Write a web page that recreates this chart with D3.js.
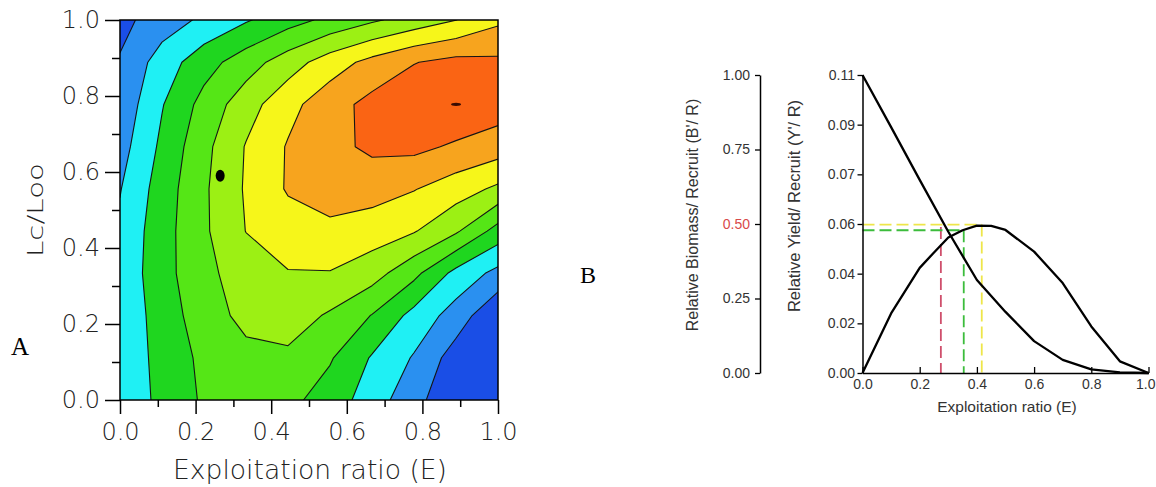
<!DOCTYPE html>
<html><head><meta charset="utf-8">
<script src="https://cdn.jsdelivr.net/npm/d3@7"></script>
<style>body{margin:0;background:#fff}svg{display:block}</style>
</head><body>
<svg id="c" width="1156" height="487"></svg>
<script>
// ---------- Panel A: Y/R isopleth grid (E = i/9 columns, Lc/Loo = j/9 rows, row 0 = bottom)
const gridE = [0, 0.111, 0.222, 0.333, 0.444, 0.556, 0.667, 0.778, 0.889, 1.0];
const gridL = [0, 0.111, 0.222, 0.333, 0.444, 0.556, 0.667, 0.778, 0.889, 1.0];
const yrRow0 = [2.30, 3.25, 4.14, 4.65, 4.27, 3.54, 2.51, 1.33, 0.20, -0.60];
const yrRow1 = [2.20, 3.38, 4.22, 4.70, 4.80, 4.10, 2.91, 1.91, 0.52, -0.30];
const yrRow2 = [2.20, 3.49, 4.50, 5.30, 5.50, 4.87, 3.96, 2.67, 1.56, 0.10];
const yrRow3 = [2.30, 3.61, 4.76, 5.44, 5.95, 5.95, 5.43, 4.27, 2.69, 1.70];
const yrRow4 = [2.20, 3.59, 4.84, 6.02, 6.50, 6.75, 6.50, 6.07, 5.14, 3.60];
const yrRow5 = [1.95, 3.47, 4.85, 6.11, 7.10, 7.50, 7.40, 7.05, 6.48, 5.80];
const yrRow6 = [1.60, 3.21, 4.72, 6.06, 7.08, 7.70, 8.20, 8.25, 7.85, 7.50];
const yrRow7 = [1.30, 2.94, 4.34, 5.57, 6.68, 7.60, 8.30, 8.70, 8.90, 8.50];
const yrRow8 = [1.08, 2.47, 3.59, 4.53, 5.52, 6.51, 7.31, 7.96, 8.30, 8.20];
const yrRow9 = [0.72, 1.48, 2.20, 2.90, 3.60, 4.25, 4.85, 5.42, 5.99, 6.80];
const contourLevels = [1, 2, 3, 4, 5, 6, 7, 8];
const bandColors = ["#1a4ee6", "#2a90f0", "#1ff0f4", "#1fd61f", "#55e616", "#9cf014", "#f6f61a", "#f7a41e", "#fa6414"];
const markerE = [0.265, 0.889];
const markerL = [0.59, 0.778];
const aTicksMajor = [0, 0.2, 0.4, 0.6, 0.8, 1.0];
const aTicksMinor = [0.1, 0.3, 0.5, 0.7, 0.9];

// ---------- Panel B: relative yield / biomass per recruit
const eB = [0, 0.1, 0.2, 0.3, 0.4, 0.5, 0.6, 0.7, 0.8, 0.9, 1.0];
const biomassPR = [1.0, 0.825, 0.648, 0.474, 0.312, 0.205, 0.107, 0.044, 0.012, 0.002, 0.0];
const eY = [0, 0.1, 0.2, 0.25, 0.3, 0.35, 0.4, 0.45, 0.5, 0.6, 0.7, 0.8, 0.9, 1.0];
const yieldPR = [0, 0.022, 0.0388, 0.0445, 0.0500, 0.0527, 0.0544, 0.0543, 0.0528, 0.0448, 0.0332, 0.0172, 0.0043, 0];
const yieldTickValues = [0, 0.01833, 0.03667, 0.055, 0.07333, 0.09167, 0.11];
const yieldTickLabels = ["0.00", "0.02", "0.04", "0.06", "0.07", "0.09", "0.11"];
const biomassTicks = [0, 0.25, 0.5, 0.75, 1.0];
const biomassTickLabels = ["0.00", "0.25", "0.50", "0.75", "1.00"];
const eTicksB = [0, 0.2, 0.4, 0.6, 0.8, 1.0];
// reference points: E0.5 (B'/R = 0.5), E0.1, Emax
const refE = [0.274, 0.354, 0.417];
const refY = [null, 0.0527, 0.0548];
const refB = [0.49, null, null];
const refColors = ["#cf4f6c", "#3cbc3c", "#eee64a"];

const svg = d3.select("#c");

// ================= Panel A =================
const xA = d3.scaleLinear([0, 1], [120, 498]);
const yA = d3.scaleLinear([0, 1], [400, 20]);
const n = gridE.length;
const values = [yrRow0, yrRow1, yrRow2, yrRow3, yrRow4, yrRow5, yrRow6, yrRow7, yrRow8, yrRow9].flat();
const cont = d3.contours().size([n, n]).thresholds(contourLevels)(values);
const eAt = d3.scaleLinear([0.5, n - 0.5], [gridE[0], gridE[n - 1]]);
const lAt = d3.scaleLinear([0.5, n - 0.5], [gridL[0], gridL[n - 1]]);
const proj = d3.geoTransform({point(x, y) { this.stream.point(xA(eAt(x)), yA(lAt(y))); }});
const path = d3.geoPath(proj);

svg.append("clipPath").attr("id", "clipA").append("rect")
  .attr("x", xA(0)).attr("y", yA(1)).attr("width", xA(1) - xA(0)).attr("height", yA(0) - yA(1));
const gA = svg.append("g").attr("clip-path", "url(#clipA)");
gA.append("rect").attr("x", xA(0)).attr("y", yA(1)).attr("width", xA(1) - xA(0)).attr("height", yA(0) - yA(1))
  .attr("fill", bandColors[0]);
gA.selectAll("path.band").data(cont).join("path").attr("class", "band")
  .attr("d", path).attr("fill", (d, i) => bandColors[i + 1])
  .attr("stroke", "#151515").attr("stroke-width", 1.1).attr("stroke-linejoin", "round");
// markers
gA.append("ellipse").attr("cx", xA(markerE[0])).attr("cy", yA(markerL[0])).attr("rx", 4.5).attr("ry", 6).attr("fill", "#000");
gA.append("ellipse").attr("cx", xA(markerE[1])).attr("cy", yA(markerL[1])).attr("rx", 5).attr("ry", 1.6).attr("fill", "#3a0c02");
// frame
svg.append("rect").attr("x", xA(0)).attr("y", yA(1)).attr("width", xA(1) - xA(0)).attr("height", yA(0) - yA(1))
  .attr("fill", "none").attr("stroke", "#000").attr("stroke-width", 1.5);

const fA = d3.format(".1f");
const tickFont = "'DejaVu Sans', sans-serif";
const textA = "#222";
function styleAxisA(g) {
  g.select(".domain").remove();
  g.selectAll("line").attr("stroke", "#000").attr("stroke-width", 1.5);
  g.selectAll("text").attr("font-family", tickFont).attr("font-size", 24).attr("font-weight", 200).attr("fill", textA);
}
svg.append("g").attr("transform", `translate(${xA(0)},0)`)
  .call(d3.axisLeft(yA).tickValues(aTicksMajor).tickSize(15).tickPadding(5).tickFormat(fA)).call(styleAxisA);
svg.append("g").attr("transform", `translate(${xA(0)},0)`)
  .call(d3.axisLeft(yA).tickValues(aTicksMinor).tickSize(8).tickFormat("")).call(styleAxisA);
svg.append("g").attr("transform", `translate(0,${yA(0)})`)
  .call(d3.axisBottom(xA).tickValues(aTicksMajor).tickSize(14).tickPadding(9).tickFormat(fA)).call(styleAxisA);
svg.append("g").attr("transform", `translate(0,${yA(0)})`)
  .call(d3.axisBottom(xA).tickValues(aTicksMinor).tickSize(7).tickFormat("")).call(styleAxisA);

svg.append("text").attr("x", 310).attr("y", 479).attr("text-anchor", "middle")
  .attr("font-family", tickFont).attr("font-size", 26).attr("font-weight", 200).attr("fill", textA)
  .attr("textLength", 274).attr("lengthAdjust", "spacingAndGlyphs").text("Exploitation ratio (E)");
svg.append("text").attr("transform", "translate(43,210) rotate(-90)").attr("text-anchor", "middle")
  .attr("font-family", tickFont).attr("font-size", 22).attr("font-weight", 200).attr("fill", textA)
  .attr("textLength", 94).attr("lengthAdjust", "spacingAndGlyphs").text("Lc/Loo");
svg.append("text").attr("x", 11).attr("y", 355).attr("font-family", "'Liberation Serif', serif")
  .attr("font-size", 25).attr("fill", "#000").text("A");

// ================= Panel B =================
const xB = d3.scaleLinear([0, 1], [862.5, 1148.5]);
const yY = d3.scaleLinear([0, 0.11], [373, 75]);
const yB = d3.scaleLinear([0, 1], [373, 75]);
const sansB = "'Liberation Sans', Arial, sans-serif";
function styleAxisB(g) {
  g.select(".domain").attr("stroke", "#000").attr("stroke-width", 1.5);
  g.selectAll(".tick line").attr("stroke", "#000").attr("stroke-width", 1.3);
  g.selectAll("text").attr("font-family", sansB).attr("font-size", 14).attr("fill", "#333");
}
// reference dashed lines
const dash = "12,5";
refE.forEach((e, i) => {
  const top = refY[i] != null ? yY(refY[i]) : yB(refB[i]);
  svg.append("line").attr("x1", xB(e)).attr("x2", xB(e)).attr("y1", top).attr("y2", yY(0))
    .attr("stroke", refColors[i]).attr("stroke-width", 1.8).attr("stroke-dasharray", dash);
  if (refY[i] != null) {
    svg.append("line").attr("x1", xB(0)).attr("x2", xB(e)).attr("y1", yY(refY[i])).attr("y2", yY(refY[i]))
      .attr("stroke", refColors[i]).attr("stroke-width", 1.8).attr("stroke-dasharray", dash);
  }
});
// curves
svg.append("path").datum(eB.map((e, i) => [e, biomassPR[i]]))
  .attr("d", d3.line().x(d => xB(d[0])).y(d => yB(d[1])))
  .attr("fill", "none").attr("stroke", "#000").attr("stroke-width", 2.3).attr("stroke-linejoin", "round");
svg.append("path").datum(eY.map((e, i) => [e, yieldPR[i]]))
  .attr("d", d3.line().x(d => xB(d[0])).y(d => yY(d[1])))
  .attr("fill", "none").attr("stroke", "#000").attr("stroke-width", 2.3).attr("stroke-linejoin", "round");

// axes
svg.append("g").attr("transform", `translate(${xB(0)},0)`)
  .call(d3.axisLeft(yY).tickValues(yieldTickValues).tickSize(5).tickSizeOuter(0).tickPadding(2.5)
    .tickFormat((d, i) => yieldTickLabels[i])).call(styleAxisB);
const gXB = svg.append("g").attr("transform", `translate(0,${yY(0)})`)
  .call(d3.axisBottom(xB).tickValues(eTicksB).tickSize(-6).tickSizeOuter(0).tickPadding(6).tickFormat(d3.format(".1f")))
  .call(styleAxisB);
gXB.selectAll(".tick text").filter(d => d === 1).attr("text-anchor", "end").attr("x", 1155 - xB(1));
const gBio = svg.append("g").attr("transform", "translate(760,0)")
  .call(d3.axisLeft(yB).tickValues(biomassTicks).tickSize(5).tickSizeOuter(0).tickPadding(5)
    .tickFormat((d, i) => biomassTickLabels[i])).call(styleAxisB);
gBio.selectAll(".tick text").filter(d => d === 0.5).attr("fill", "#d84a4a");

svg.append("text").attr("x", 1007).attr("y", 412).attr("text-anchor", "middle")
  .attr("font-family", sansB).attr("font-size", 15.5).attr("fill", "#333").text("Exploitation ratio (E)");
svg.append("text").attr("transform", "translate(698,215) rotate(-90)").attr("text-anchor", "middle")
  .attr("font-family", sansB).attr("font-size", 16).attr("fill", "#333").text("Relative Biomass/ Recruit (B'/ R)");
svg.append("text").attr("transform", "translate(800,206) rotate(-90)").attr("text-anchor", "middle")
  .attr("font-family", sansB).attr("font-size", 16.5).attr("fill", "#333").text("Relative Yield/ Recruit (Y'/ R)");
svg.append("text").attr("x", 580).attr("y", 283).attr("font-family", "'Liberation Serif', serif")
  .attr("font-size", 24).attr("fill", "#000").text("B");
</script>
</body></html>
